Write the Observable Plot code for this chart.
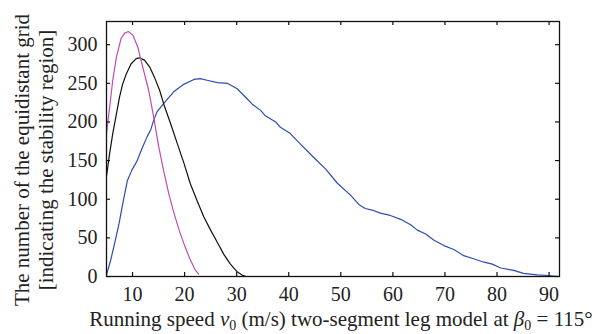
<!DOCTYPE html>
<html>
<head>
<meta charset="utf-8">
<script src="https://cdn.jsdelivr.net/npm/d3@7"></script>
<script src="https://cdn.jsdelivr.net/npm/@observablehq/plot@0.6"></script>
<style>
  html, body { margin: 0; padding: 0; background: #fff; }
  #chart svg { display: block; }
  #chart svg text { font-family: 'Liberation Serif', 'DejaVu Serif', serif; }
</style>
</head>
<body>
<div id="chart"></div>
<script>
// Running speed v0 (m/s) and number of equidistant grid points (stability region)
const magentaV = [5, 5.6, 6.2, 6.9, 7.8, 8.5, 9.2, 10.1, 11.0, 12.0, 13.1, 14.1, 15.0, 16.0, 17.0, 18.0, 19.0, 20.0, 21.0, 22.0, 22.7];
const magentaN = [185, 219, 254, 284, 308, 315, 317, 312, 297, 270, 241, 205, 169, 136, 106, 81, 59, 40, 23, 9, 3];

const blackV = [5, 5.6, 6.2, 6.9, 7.5, 8.1, 8.8, 9.7, 10.7, 11.3, 12.3, 13.3, 14.2, 15.2, 16.0, 17.3, 18.6, 19.9, 21.1, 22.4, 23.7, 25.0, 26.3, 27.5, 28.8, 30.1, 31.0, 31.8];
const blackN = [130, 159, 185, 210, 232, 249, 262, 275, 282, 283, 280, 271, 258, 241, 223, 198, 172, 146, 120, 98, 77, 60, 44, 29, 16, 6, 2, 0];

const blueV = [5, 5.8, 6.7, 7.4, 8.0, 9.0, 9.9, 10.9, 11.9, 12.8, 13.5, 14.1, 14.7, 16.0, 17.9, 19.9, 21.8, 23.0, 24.3, 26.3, 28.2, 30.1, 32.0, 33.0, 34.6, 35.5, 37.5, 38.4, 40.3, 42.3, 44.8, 47.1, 49.3, 51.9, 53.5, 54.7, 56.0, 57.6, 59.5, 61.5, 63.4, 64.7, 66.3, 67.9, 69.8, 71.7, 73.6, 75.5, 77.5, 79.1, 80.7, 83.2, 85.1, 87.7, 89.9, 91.8];
const blueN = [2, 21, 47, 68, 90, 124, 138, 150, 167, 181, 190, 203, 213, 224, 239, 249, 255, 256, 254, 251, 250, 243, 230, 223, 215, 208, 200, 193, 185, 171, 154, 139, 121, 105, 93, 88, 86, 82, 79, 74, 67, 60, 55, 47, 40, 35, 27, 23, 18.5, 16, 11, 8, 4, 2, 1.3, 0];

const xTicks = [10, 20, 30, 40, 50, 60, 70, 80, 90];
const yTicks = [0, 50, 100, 150, 200, 250, 300];

const xLabel = "Running speed v0 (m/s) two-segment leg model at β0 = 115°";
const yLabel = "The number of the equidistant grid\n[indicating the stability region]";

const seriesColors = {magenta: "#c04cb4", black: "#111111", blue: "#2f4cb0"};

const toRows = (vs, ns) => vs.map((v, i) => ({v, n: ns[i]}));
const magenta = toRows(magentaV, magentaN);
const black = toRows(blackV, blackN);
const blue = toRows(blueV, blueN);

const font = "'Liberation Serif', 'DejaVu Serif', serif";
const W = 603, H = 334, ML = 106, MR = 44, MT = 21, MB = 58;
const frameW = W - ML - MR, frameH = H - MT - MB, tickLen = 4;

const plot = Plot.plot({
  width: W,
  height: H,
  marginLeft: ML,
  marginRight: MR,
  marginTop: MT,
  marginBottom: MB,
  style: {fontFamily: font, fontSize: "20px", color: "#222", background: "#fff"},
  x: {domain: [5, 92], ticks: xTicks},
  y: {domain: [0, 330], ticks: yTicks},
  marks: [
    Plot.line(blue, {x: "v", y: "n", stroke: seriesColors.blue, strokeWidth: 1.2}),
    Plot.line(black, {x: "v", y: "n", stroke: seriesColors.black, strokeWidth: 1.2}),
    Plot.line(magenta, {x: "v", y: "n", stroke: seriesColors.magenta, strokeWidth: 1.2}),
    // inward ticks on all four sides
    Plot.tickX(xTicks, {x: d => d, insetTop: frameH - tickLen, stroke: "#111", strokeWidth: 1.2}),
    Plot.tickX(xTicks, {x: d => d, insetBottom: frameH - tickLen, stroke: "#111", strokeWidth: 1.2}),
    Plot.tickY(yTicks, {y: d => d, insetRight: frameW - tickLen, stroke: "#111", strokeWidth: 1.2}),
    Plot.tickY(yTicks, {y: d => d, insetLeft: frameW - tickLen, stroke: "#111", strokeWidth: 1.2}),
    Plot.frame({stroke: "#111", strokeWidth: 1.3}),
    Plot.axisX(xTicks, {anchor: "bottom", tickSize: 0, tickPadding: 10, label: null, fontSize: 20, fontFamily: font, fill: "#222"}),
    Plot.axisY(yTicks, {anchor: "left", tickSize: 0, tickPadding: 9, label: null, fontSize: 20, fontFamily: font, fill: "#222"}),
    Plot.text([yLabel], {
      text: d => d, frameAnchor: "left", rotate: -90, dx: -73, dy: 11,
      lineAnchor: "middle", lineHeight: 1.14, fontSize: 21, fontFamily: font, fill: "#222", textAnchor: "middle"
    }),
    Plot.text([xLabel], {
      text: d => d, frameAnchor: "bottom", dx: 8, dy: 43,
      lineAnchor: "middle", fontSize: 21, fontFamily: font, fill: "#222", textAnchor: "middle", className: "xlabel"
    })
  ]
});

document.getElementById("chart").appendChild(plot);

// Rich formatting of the x label: italic symbols with subscripts
d3.select(plot).selectAll("g.xlabel text").each(function () {
  const t = d3.select(this);
  t.text(null);
  const parts = [
    {s: "Running speed "},
    {s: "v", italic: true},
    {s: "0", sub: true},
    {s: " (m/s) two-segment leg model at "},
    {s: "β", italic: true},
    {s: "0", sub: true},
    {s: " = 115°"}
  ];
  for (const p of parts) {
    const ts = t.append("tspan").text(p.s);
    if (p.italic) ts.attr("font-style", "italic");
    if (p.sub) ts.attr("font-size", "14px").attr("baseline-shift", "-25%");
  }
});
</script>
</body>
</html>
